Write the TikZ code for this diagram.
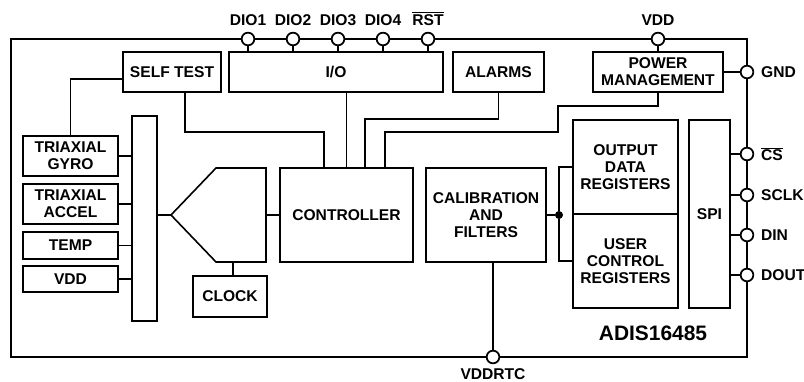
\documentclass[tikz,border=0pt]{standalone}
\usepackage{fontspec}
\setmainfont{Liberation Sans}
\usetikzlibrary{positioning,calc}
\newcommand{\lblfont}{\fontsize{11.7}{12.6}\selectfont\bfseries}
\tikzset{
  blk/.style 2 args={draw,line width=1.2pt,fill=white,inner sep=0pt,align=center,
                     minimum width=#1*0.75pt,minimum height=#2*0.75pt,font=\lblfont},
  frame/.style ={draw,line width=1.8pt},
  wire/.style  ={draw,line width=1.2pt},
  term/.style  ={circle,draw,line width=1.3pt,fill=white,inner sep=0pt,minimum size=9.5pt},
  jdot/.style  ={circle,fill,inner sep=0pt,minimum size=6pt},
  plbl/.style  ={inner sep=0pt,font=\lblfont},
  ttl/.style   ={inner sep=0pt,font=\fontsize{15.7}{18}\selectfont\bfseries},
}
\begin{document}
\begin{tikzpicture}[x=0.75pt,y=-0.75pt]
\useasboundingbox (0,0) rectangle (804,382);

% ---------- package outline ----------------------------------------------
\draw[frame] (11,39) rectangle (747,357);

% ---------- top row ------------------------------------------------------
\node[blk={98}{40}]  (selftest) at (172,72)   {SELF TEST};
\node[blk={214}{40}] (io)       at (336,72)   {I/O};
\node[blk={91}{40}]  (alarms)   at (498.5,72) {ALARMS};
\node[blk={130}{40}] (pm)       at (658,72)   {POWER\\MANAGEMENT};

% ---------- sensors and mux ----------------------------------------------
\node[blk={95}{40}] (gyro)  at (70.5,156)   {TRIAXIAL\\GYRO};
\node[blk={95}{40}] (accel) at (70.5,204)   {TRIAXIAL\\ACCEL};
\node[blk={95}{27}] (temp)  at (70.5,245.5) {TEMP};
\node[blk={95}{26}] (vdds)  at (70.5,279)   {VDD};
\node[blk={25}{205}] (mbar) at (144.5,218.5) {};
\foreach \s in {gyro,accel,temp,vdds}
  \draw[wire] (\s.east) -- (mbar.west |- \s.east);

\coordinate (mtip) at (171,215);
\draw[wire] (mtip) -- (216,168) -- (266,168) -- (266,262) -- (216,262) -- cycle;
\coordinate (mout) at (266,215);
\coordinate (mclk) at (233,262);
\draw[wire] (mbar.east |- mtip) -- (mtip);

\node[blk={74}{41}] (clock) at (230,296.5) {CLOCK};
\draw[wire] (mclk) -- (clock.north -| mclk);

% ---------- core ---------------------------------------------------------
\node[blk={133}{94}] (ctrl) at (346.5,215) {CONTROLLER};
\node[blk={120}{94}] (cal)  at (486,215)   {CALIBRATION\\AND\\FILTERS};
\node[blk={105}{94}] (outreg)  at (625.5,167) {OUTPUT\\DATA\\REGISTERS};
\node[blk={105}{94}] (userreg) at (625.5,261) {USER\\CONTROL\\REGISTERS};
\node[blk={41}{188}] (spi) at (709.5,214) {SPI};
\draw[wire] (mout) -- (ctrl.west);

\coordinate (cin1) at ($(ctrl.north west)+(45,0)$);
\coordinate (cin3) at ($(ctrl.north west)+(86,0)$);
\coordinate (cin4) at ($(ctrl.north west)+(106,0)$);
\draw[wire] ($(selftest.west)+(0,7)$) -| (gyro.north);
\draw[wire] ($(selftest.south)+(13,0)$) |- ($(cin1)+(0,-35)$) -- (cin1);
\draw[wire] (io.south -| ctrl.north) -- (ctrl.north);
\draw[wire] (alarms.south) |- ($(cin3)+(0,-48)$) -- (cin3);
\draw[wire] (pm.south) |- ($(cin4)+(173,-61)$) |- ($(cin4)+(0,-35)$) -- (cin4);

\node[jdot] (jn) at (559,215) {};
\draw[wire] (cal.east) -- (jn);
\draw[wire] (outreg.west) -| (jn);
\draw[wire] (userreg.west) -| (jn);

% ---------- pins ---------------------------------------------------------
\foreach \nm/\xx/\txt in {dio1/248/DIO1,dio2/293/DIO2,dio3/338/DIO3,
                          dio4/383/DIO4,rst/428/{$\overline{\hbox{RST}}$}}{
  \node[term] (\nm) at (\xx,39) {};
  \node[plbl,above=4.5pt of \nm] {\txt};
  \draw[wire] (\nm) -- (\nm |- io.north);
}
\node[term] (vddp) at (658,39) {};
\node[plbl,above=4.5pt of vddp] {VDD};
\draw[wire] (vddp) -- (pm.north);

\node[term] (gnd) at (747,72) {};
\node[plbl,right=5pt of gnd] {GND};
\draw[wire] (pm.east) -- (gnd);

\foreach \nm/\yy/\txt in {cs/154/{$\overline{\hbox{CS}}$},sclk/195/SCLK,
                          din/235/DIN,dout/275/DOUT}{
  \node[term] (\nm) at (747,\yy) {};
  \node[plbl,right=5pt of \nm] {\txt};
  \draw[wire] (spi.east |- \nm) -- (\nm);
}

\node[term] (vddrtc) at (493,357) {};
\node[plbl,below=3pt of vddrtc] {VDDRTC};
\draw[wire] (cal.south -| vddrtc) -- (vddrtc);

\node[ttl] (part) at (653,333) {ADIS16485};
\end{tikzpicture}
\end{document}
